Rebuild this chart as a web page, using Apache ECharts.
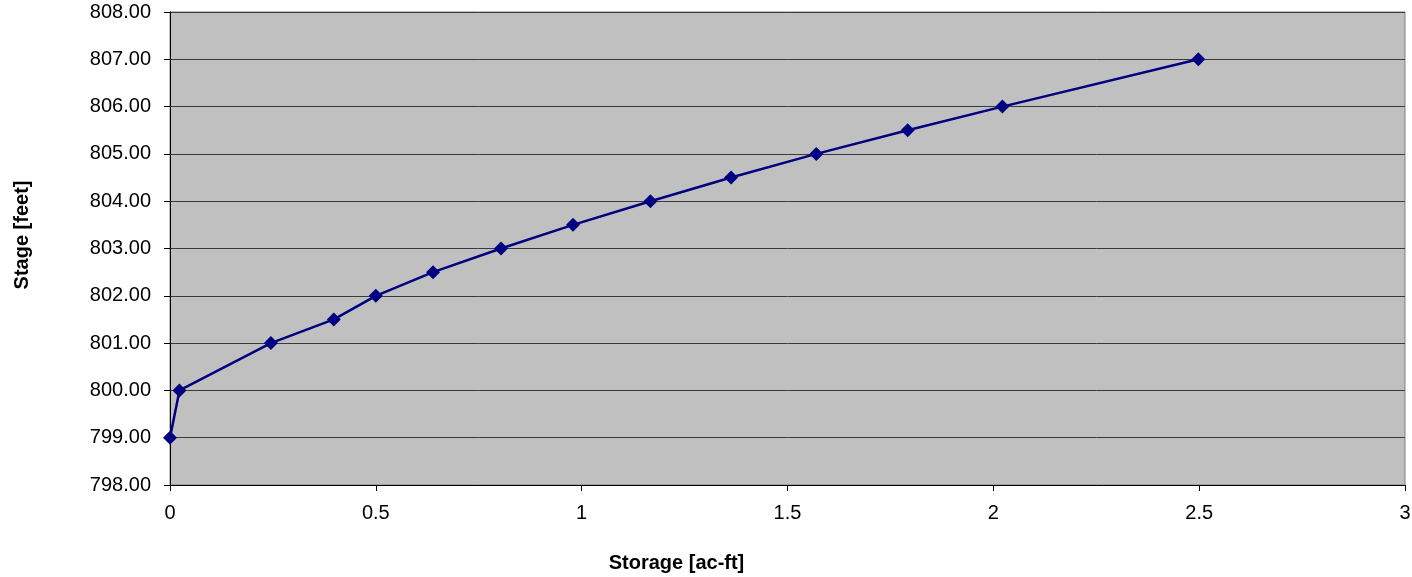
<!DOCTYPE html>
<html>
<head>
<meta charset="utf-8">
<script src="https://cdn.jsdelivr.net/npm/echarts@6/dist/echarts.min.js"></script>
<style>html,body{margin:0;padding:0;background:#fff}#c{width:1412px;height:577px}</style>
</head>
<body>
<div id="c"></div>
<script>
const storage = [0.0, 0.023, 0.245, 0.398, 0.500, 0.639, 0.804, 0.979, 1.167, 1.363, 1.570, 1.792, 2.022, 2.498];
const stage = [799, 800, 801, 801.5, 802, 802.5, 803, 803.5, 804, 804.5, 805, 805.5, 806, 807];
const xTitle = 'Storage [ac-ft]';
const yTitle = 'Stage [feet]';

const chart = echarts.init(document.getElementById('c'));
const font = 'Liberation Sans, Arial, sans-serif';
chart.setOption({
  animation: false,
  backgroundColor: '#ffffff',
  grid: { left: 170, right: 7, top: 12, bottom: 92, show: true, backgroundColor: '#C0C0C0', borderWidth: 1, borderColor: '#808080', containLabel: false, outerBoundsMode: 'none' },
  xAxis: {
    type: 'value', min: 0, max: 3, interval: 0.5,
    name: xTitle, nameLocation: 'middle', nameGap: 68,
    nameTextStyle: { fontFamily: font, fontSize: 20, fontWeight: 'bold', color: '#000', padding: [0, 222, 0, 0] },
    axisLine: { show: true, onZero: false, lineStyle: { color: '#000', width: 1 } },
    axisTick: { show: true, length: 6, lineStyle: { color: '#000' } },
    axisLabel: { fontFamily: font, fontSize: 20, color: '#000', margin: 18 },
    splitLine: { show: false }
  },
  yAxis: {
    type: 'value', min: 798, max: 808, interval: 1,
    name: yTitle, nameLocation: 'middle', nameGap: 138, nameRotate: 90,
    nameTextStyle: { fontFamily: font, fontSize: 20, fontWeight: 'bold', color: '#000', padding: [0, 0, 0, 27] },
    axisLine: { show: true, lineStyle: { color: '#000', width: 1 } },
    axisTick: { show: true, length: 6, lineStyle: { color: '#000' } },
    axisLabel: { fontFamily: font, fontSize: 20, color: '#000', margin: 19, formatter: v => v.toFixed(2) },
    splitLine: { show: true, lineStyle: { color: '#3a3a3a', width: 1 } }
  },
  series: [{
    type: 'line',
    data: storage.map((x, i) => [x, stage[i]]),
    symbol: 'diamond', symbolSize: 14,
    lineStyle: { color: '#000080', width: 2.5 },
    itemStyle: { color: '#000080' }
  }]
});
</script>
</body>
</html>
